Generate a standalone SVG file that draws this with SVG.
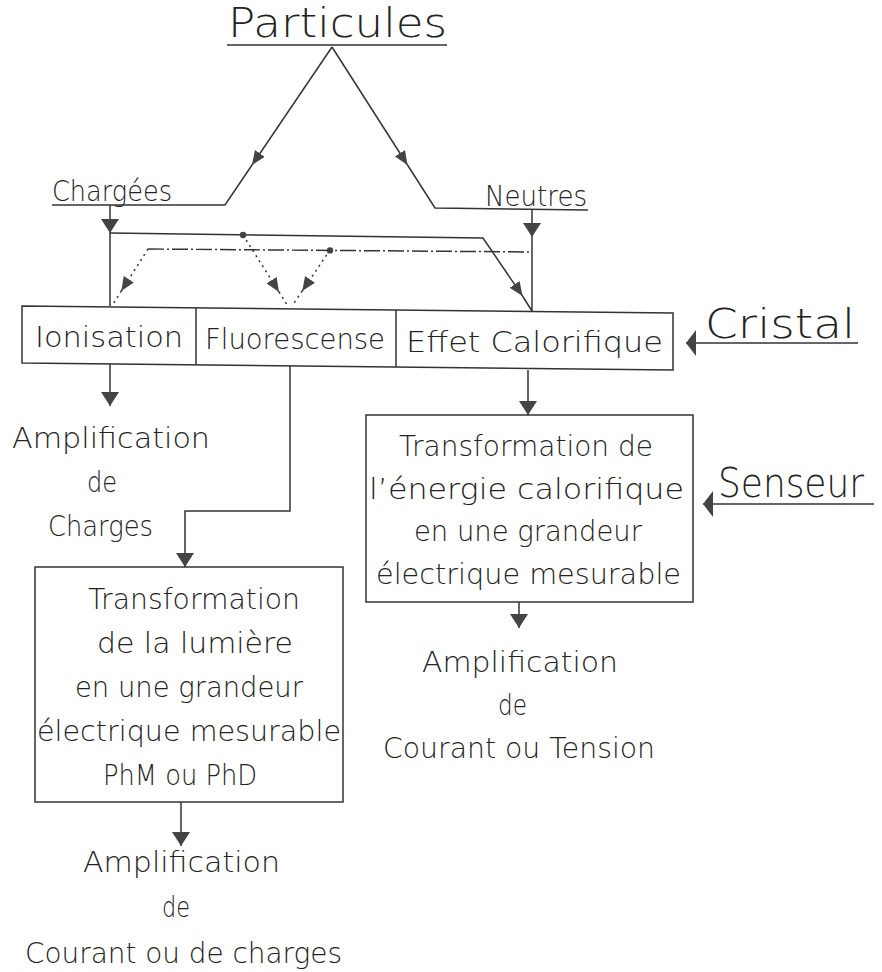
<svg xmlns="http://www.w3.org/2000/svg" width="882" height="972" viewBox="0 0 882 972">
<defs>
<style>
.t{font-family:"DejaVu Sans","Liberation Sans",sans-serif;font-weight:200;fill:#222;font-size:28px}
.big{font-size:40px}
.mid{font-size:28px}
.ln{fill:none;stroke:#333;stroke-width:1.5}
.box{fill:#fff;stroke:#333;stroke-width:1.5}
.dot{stroke-dasharray:2 4}
.dd{stroke-dasharray:16 3 2 3}
</style>
<marker id="ah" viewBox="-14 -9 14 18" refX="0" refY="0" markerWidth="14" markerHeight="18" markerUnits="userSpaceOnUse" orient="auto"><path d="M0,0 L-14,-9 L-14,9 Z" fill="#444"/></marker>
<marker id="ahs" viewBox="-14 -6 14 12" refX="0" refY="0" markerWidth="14" markerHeight="12" markerUnits="userSpaceOnUse" orient="auto"><path d="M0,0 L-14,-6 L-14,6 Z" fill="#444"/></marker>
<marker id="ahw" viewBox="-10 -13 10 26" refX="0" refY="0" markerWidth="10" markerHeight="26" markerUnits="userSpaceOnUse" orient="auto"><path d="M0,0 L-10,-13 L-10,13 Z" fill="#444"/></marker>
</defs>
<rect width="882" height="972" fill="#fff"/>

<g id="connectors">
<path class="ln" d="M227,45 L447,45"/>
<path class="ln" d="M332,47 L252,165" marker-end="url(#ahs)"/>
<path class="ln" d="M252,165 L225,205 L52,205"/>
<path class="ln" d="M332,47 L407.5,165" marker-end="url(#ahs)"/>
<path class="ln" d="M407.5,165 L435,208 L588,210"/>
<path class="ln" d="M110,205 L110,233" marker-end="url(#ah)"/>
<path class="ln" d="M110,233 L110,306"/>
<path class="ln" d="M532,210 L532,237" marker-end="url(#ah)"/>
<path class="ln" d="M532,237 L532,311"/>
<path class="ln" d="M110,233 L483,238 L522.5,296" marker-end="url(#ahs)"/>
<path class="ln" d="M522.5,296 L532,311"/>
<circle cx="243" cy="235" r="3.2" fill="#444"/>
<path class="ln dot" d="M243,235 L279,292" marker-end="url(#ahs)"/>
<path class="ln dot" d="M279,292 L288,306"/>
<path class="ln dd" d="M148,249 L532,252"/>
<circle cx="330" cy="250.4" r="3.2" fill="#444"/>
<path class="ln dot" d="M148,249 L121.3,291" marker-end="url(#ahs)"/>
<path class="ln dot" d="M121.3,291 L113,304"/>
<path class="ln dot" d="M330,250 L302.2,291" marker-end="url(#ahs)"/>
<path class="ln dot" d="M302.2,291 L292,306"/>
<path class="ln" d="M858,343 L686,343" marker-end="url(#ahw)"/>
<path class="ln" d="M874,504 L703,504" marker-end="url(#ahw)"/>
<path class="ln" d="M110,364 L110,406" marker-end="url(#ah)"/>
<path class="ln" d="M290,366 L290,511 L185,511 L185,567" marker-end="url(#ah)"/>
<path class="ln" d="M528,370 L528,415" marker-end="url(#ah)"/>
<path class="ln" d="M519,602 L519,628" marker-end="url(#ah)"/>
<path class="ln" d="M181,802 L181,846" marker-end="url(#ah)"/>
</g>

<g id="particules"><text class="t big" x="228" y="37" textLength="219" lengthAdjust="spacingAndGlyphs">Particules</text></g>
<g id="chargees"><text class="t mid" x="52" y="201" textLength="120" lengthAdjust="spacingAndGlyphs">Chargées</text></g>
<g id="neutres"><text class="t mid" x="485" y="206" textLength="102" lengthAdjust="spacingAndGlyphs">Neutres</text></g>

<g id="cristal-row">
<path class="box" d="M22,306 L673,313 L673,370 L22,363 Z"/>
<path class="ln" d="M196,308 L196,365 M396,310 L396,367"/>
</g>
<g id="ionisation"><text class="t" x="35" y="347" textLength="148" lengthAdjust="spacingAndGlyphs">Ionisation</text></g>
<g id="fluorescense"><text class="t" x="205" y="349" textLength="180" lengthAdjust="spacingAndGlyphs">Fluorescense</text></g>
<g id="effet"><text class="t" x="406" y="352" textLength="257" lengthAdjust="spacingAndGlyphs">Effet Calorifique</text></g>

<g id="cristal"><text class="t big" x="705" y="338" textLength="150" lengthAdjust="spacingAndGlyphs">Cristal</text></g>
<g id="senseur"><text class="t big" x="718" y="497" textLength="146" lengthAdjust="spacingAndGlyphs">Senseur</text></g>

<g id="amp-charges">
<text class="t" x="12" y="448" textLength="198" lengthAdjust="spacingAndGlyphs">Amplification</text>
<text class="t" x="87" y="492" textLength="30" lengthAdjust="spacingAndGlyphs">de</text>
<text class="t" x="48" y="536" textLength="105" lengthAdjust="spacingAndGlyphs">Charges</text>
</g>

<g id="senseur-box">
<rect class="box" x="366" y="415" width="327" height="187"/>
<text class="t" x="399" y="456" textLength="254" lengthAdjust="spacingAndGlyphs">Transformation de</text>
<text class="t" x="369" y="499" textLength="315" lengthAdjust="spacingAndGlyphs">l’énergie calorifique</text>
<text class="t" x="414" y="541" textLength="228" lengthAdjust="spacingAndGlyphs">en une grandeur</text>
<text class="t" x="376" y="584" textLength="305" lengthAdjust="spacingAndGlyphs">électrique mesurable</text>
</g>

<g id="amp-tension">
<text class="t" x="422" y="672" textLength="196" lengthAdjust="spacingAndGlyphs">Amplification</text>
<text class="t" x="498" y="715" textLength="29" lengthAdjust="spacingAndGlyphs">de</text>
<text class="t" x="383" y="758" textLength="272" lengthAdjust="spacingAndGlyphs">Courant ou Tension</text>
</g>

<g id="lumiere-box">
<rect class="box" x="35" y="567" width="308" height="235"/>
<text class="t" x="88" y="609" textLength="212" lengthAdjust="spacingAndGlyphs">Transformation</text>
<text class="t" x="97" y="653" textLength="196" lengthAdjust="spacingAndGlyphs">de la lumière</text>
<text class="t" x="75" y="697" textLength="228" lengthAdjust="spacingAndGlyphs">en une grandeur</text>
<text class="t" x="37" y="741" textLength="304" lengthAdjust="spacingAndGlyphs">électrique mesurable</text>
<text class="t" x="103" y="785" textLength="154" lengthAdjust="spacingAndGlyphs">PhM ou PhD</text>
</g>

<g id="amp-courant">
<text class="t" x="83" y="872" textLength="197" lengthAdjust="spacingAndGlyphs">Amplification</text>
<text class="t" x="162" y="917" textLength="28" lengthAdjust="spacingAndGlyphs">de</text>
<text class="t" x="25" y="963" textLength="317" lengthAdjust="spacingAndGlyphs">Courant ou de charges</text>
</g>
</svg>
